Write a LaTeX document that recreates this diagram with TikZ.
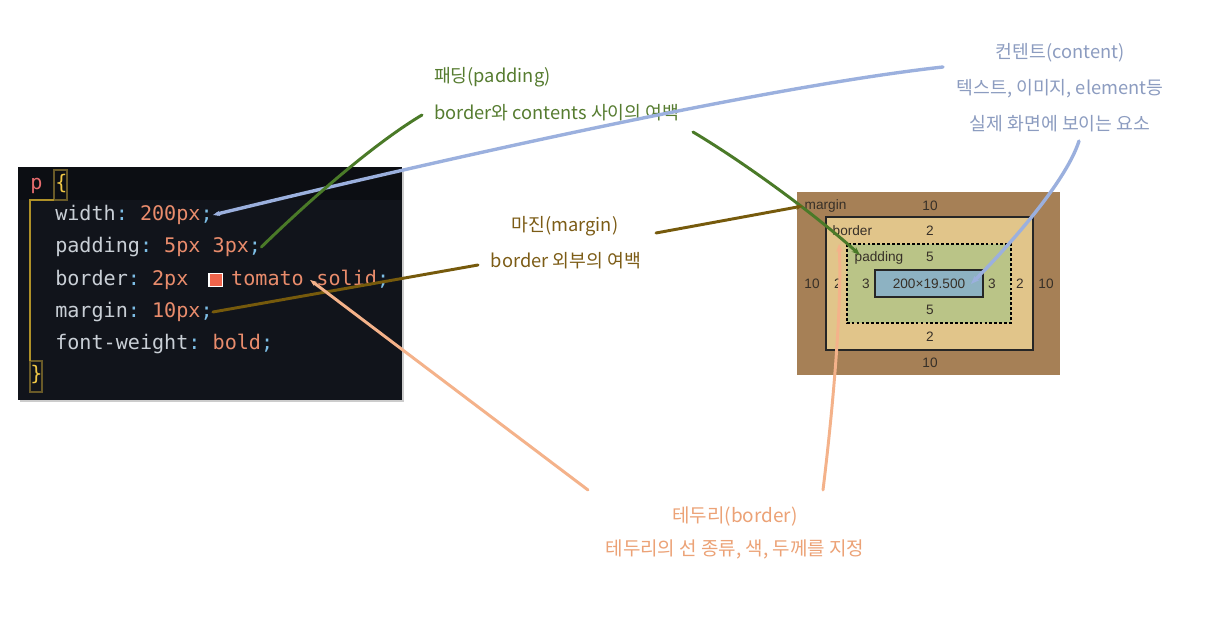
\documentclass[tikz,border=0pt]{standalone}
\usepackage{fontspec}
\setmonofont{DejaVu Sans Mono}
\newfontfamily\krfont{Noto Sans CJK KR}
\newfontfamily\boxfont{Liberation Sans}
\usetikzlibrary{positioning,calc,arrows.meta}

\definecolor{panel}{RGB}{17,20,27}
\definecolor{paneltop}{RGB}{12,14,19}
\definecolor{propc}{RGB}{201,207,214}
\definecolor{punc}{RGB}{125,190,230}
\definecolor{valc}{RGB}{233,140,108}
\definecolor{selc}{RGB}{232,108,110}
\definecolor{bracec}{RGB}{240,200,70}
\definecolor{guidec}{RGB}{175,145,40}
\definecolor{guidebox}{RGB}{105,90,40}
\definecolor{tomatoc}{RGB}{240,100,75}
\definecolor{marginc}{RGB}{166,128,86}
\definecolor{borderc}{RGB}{225,197,138}
\definecolor{paddingc}{RGB}{186,196,135}
\definecolor{contentc}{RGB}{141,178,194}
\definecolor{boxtext}{RGB}{55,48,40}
\definecolor{padtxt}{RGB}{86,124,48}
\definecolor{padline}{RGB}{74,122,40}
\definecolor{martxt}{RGB}{124,92,22}
\definecolor{marline}{RGB}{118,90,12}
\definecolor{cnttxt}{RGB}{140,156,192}
\definecolor{cntline}{RGB}{155,176,222}
\definecolor{bdrtxt}{RGB}{236,162,118}
\definecolor{bdrline}{RGB}{244,178,138}

\newcommand{\cprop}[1]{\textcolor{propc}{#1}}
\newcommand{\cpun}[1]{\textcolor{punc}{#1}}
\newcommand{\cval}[1]{\textcolor{valc}{#1}}

\tikzset{
  codeline/.style={font=\ttfamily\fontsize{14.3}{17}\selectfont, inner sep=0pt,
    anchor=west, text height=10.5pt, text depth=3pt},
  swatch/.style={draw=white, fill=tomatoc, line width=1pt, inner sep=0pt, minimum size=9.5pt},
  lbl/.style={font=\krfont\fontsize{13}{15}\selectfont, inner sep=2pt},
  boxlbl/.style={font=\boxfont\fontsize{9.7}{11}\selectfont, text=boxtext, inner sep=1pt},
  wire/.style={line width=2.1pt, line cap=round},
}

\begin{document}
\begin{tikzpicture}[x=0.025cm, y=-0.025cm]
\useasboundingbox (0,0) rectangle (1232,622);
\fill[white] (0,0) rectangle (1232,622);

% code panel
\fill[black!20] (20,169) rectangle (404,402);
\fill[panel] (18,167) rectangle (402,400);
\fill[paneltop] (18,167) rectangle (402,200);

\node[codeline] (sel) at (30,184) {\textcolor{selc}{p}};
\node[codeline] (open) at (55,184) {\textcolor{bracec}{\{}};
\node[codeline] (wid) at (55,215) {\cprop{width}\cpun{:} \cval{200px}\cpun{;}};
\node[codeline] (pad) at (55,247) {\cprop{padding}\cpun{:} \cval{5px 3px}\cpun{;}};
\node[codeline] (bdr) at (55,280) {\cprop{border}\cpun{:} \cval{2px}};
\node[swatch, right=14pt of bdr] (sw) {};
\node[codeline, right=5.5pt of sw] (tom) {\cval{tomato}};
\node[codeline, right=8.6pt of tom] (sol) {\cval{solid}\cpun{;}};
\node[codeline] (mar) at (55,312) {\cprop{margin}\cpun{:} \cval{10px}\cpun{;}};
\node[codeline] (fw) at (55,344) {\cprop{font-weight}\cpun{:} \cval{bold}\cpun{;}};
\node[codeline] (close) at (30,375) {\textcolor{bracec}{\}}};

\draw[guidebox, line width=0.8pt] (54,170) rectangle (67,200);
\draw[guidebox, line width=0.8pt] (30,361) rectangle (42,392);
\draw[guidec, line width=1pt] (54,200) -- (30,200) -- (30,361);

% box model
\fill[marginc] (797,192) rectangle (1060,375);
\filldraw[fill=borderc, draw=black!85, line width=0.8pt] (826,217) rectangle (1033,350);
\filldraw[fill=paddingc, draw=black, line width=0.8pt, dash pattern=on 2pt off 1.5pt] (847,244) rectangle (1011,323);
\filldraw[fill=contentc, draw=black!85, line width=0.8pt] (875,270) rectangle (983,297);

\node[boxlbl, anchor=west] (mlbl) at (803,206) {margin};
\node[boxlbl] (mtop) at (930,206) {10};
\node[boxlbl, anchor=west] (blbl) at (831,231) {border};
\node[boxlbl] (btop) at (930,231) {2};
\node[boxlbl, anchor=west] (plbl) at (853,258) {padding};
\node[boxlbl] (ptop) at (930,257) {5};
\node[boxlbl] (clbl) at (929,284) {200×19.500};
\node[boxlbl] (pleft) at (866,284) {3};
\node[boxlbl] (pright) at (992,284) {3};
\node[boxlbl] (bright) at (1020,284) {2};
\node[boxlbl] (mright) at (1046,284) {10};
\node[boxlbl] (bleft) at (838,284) {2};
\node[boxlbl] (mleft) at (812,284) {10};
\node[boxlbl] (pbot) at (930,310) {5};
\node[boxlbl] (bbot) at (930,337) {2};
\node[boxlbl] (mbot) at (930,363) {10};

% labels
\node[lbl, text=padtxt, anchor=west] (padA) at (431,77) {패딩(padding)};
\node[lbl, text=padtxt, anchor=west] (padB) at (431,113) {border와 contents 사이의 여백};
\node[lbl, text=martxt] (marA) at (565,226) {마진(margin)};
\node[lbl, text=martxt] (marB) at (566,261) {border 외부의 여백};
\node[lbl, text=cnttxt] (cntA) at (1060,53) {컨텐트(content)};
\node[lbl, text=cnttxt] (cntB) at (1060,89) {텍스트, 이미지, element등};
\node[lbl, text=cnttxt] (cntC) at (1060,124) {실제 화면에 보이는 요소};
\node[lbl, text=bdrtxt, font=\krfont\fontsize{13.5}{15}\selectfont] (bdrA) at (735,517) {테두리(border)};
\node[lbl, text=bdrtxt, font=\krfont\fontsize{13.5}{15}\selectfont] (bdrB) at (735,549) {테두리의 선 종류, 색, 두께를 지정};

% free ends next to the labels
\coordinate (cntIn) at (943,67);
\coordinate (cntOut) at (1079,141);
\coordinate (padIn) at (422,115);
\coordinate (padOut) at (693,132);
\coordinate (marIn) at (478,265);
\coordinate (marOut) at (656,233);
\coordinate (bdrIn) at (588,490);
\coordinate (bdrOut) at (823,490);

% connectors
\draw[wire, cntline, line width=2.4pt, {Stealth[length=5pt]}-] (wid.east) .. controls (480,150) and (780,85) .. (cntIn);
\draw[wire, cntline, line width=2.4pt, -{Stealth[length=6pt]}] (cntOut) .. controls (1065,185) and (1000,255) .. ($(clbl.east)+(4,0)$);
\draw[wire, padline] (pad.east) .. controls (320,190) and (380,140) .. (padIn);
\draw[wire, padline, -{Stealth[length=6pt]}] (padOut) .. controls (740,160) and (810,210) .. ($(plbl.west)+(7,-3)$);
\draw[wire, marline] (mar.east) -- (marIn);
\draw[wire, marline, -{Stealth[length=5pt]}] (marOut) -- (mlbl.west);
\draw[wire, bdrline, {Stealth[length=5pt]}-] ($(tom.east)!0.5!(sol.west)$) -- (bdrIn);
\draw[wire, bdrline, -{Stealth[length=6pt]}] (bdrOut) .. controls (834,400) and (842,300) .. ($(blbl.south west)+(8,6)$);
\end{tikzpicture}
\end{document}
